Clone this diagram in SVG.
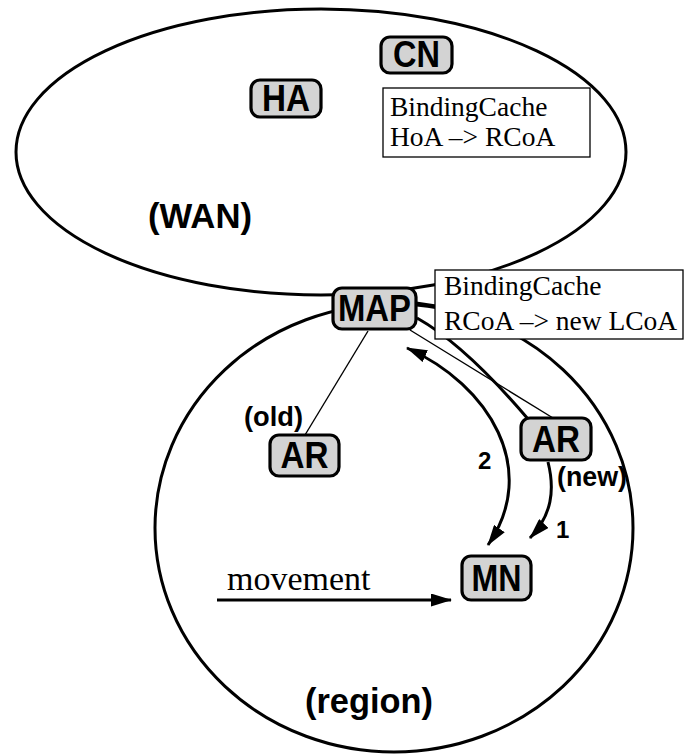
<svg xmlns="http://www.w3.org/2000/svg" width="685" height="755" viewBox="0 0 685 755">
  <defs>
    <style>
      .area { fill: none; stroke: #000; stroke-width: 3; }
      .node rect { fill: #d3d3d3; stroke: #000; stroke-width: 3.2; }
      .node text { font-family: "Liberation Sans", Arial, sans-serif; font-weight: bold; font-size: 37px; text-anchor: middle; fill: #000; }
      .cache rect { fill: #fff; stroke: #000; stroke-width: 1.3; }
      .cache text { font-family: "Liberation Serif", "Times New Roman", serif; font-size: 27.5px; fill: #000; }
      .label { font-family: "Liberation Sans", Arial, sans-serif; font-weight: bold; fill: #000; }
      .serif { font-family: "Liberation Serif", "Times New Roman", serif; fill: #000; }
      .thin { fill: none; stroke: #000; stroke-width: 1.4; }
      .thick { fill: none; stroke: #000; stroke-width: 3; }
      .arrow { fill: none; stroke: #000; stroke-width: 3; marker-end: url(#head); }
    </style>
    <marker id="head" viewBox="0 0 21 13" refX="20" refY="6.5" markerWidth="21" markerHeight="13" markerUnits="userSpaceOnUse" orient="auto-start-reverse">
      <path d="M0,0 L21,6.5 L0,13 z" fill="#000"/>
    </marker>
  </defs>

  <!-- network areas -->
  <g id="wan">
    <ellipse class="area" cx="321" cy="152" rx="305" ry="143"/>
    <text class="label" x="148" y="228" font-size="35" textLength="104" lengthAdjust="spacingAndGlyphs">(WAN)</text>
  </g>
  <g id="region">
    <ellipse class="area" cx="394" cy="528" rx="239" ry="224"/>
    <text class="label" x="305" y="713" font-size="35" textLength="128" lengthAdjust="spacingAndGlyphs">(region)</text>
  </g>

  <!-- links and signalling -->
  <g id="connectors">
    <line class="thin" x1="368" y1="331" x2="305" y2="435"/>
    <line class="thin" x1="410" y1="330" x2="553" y2="418"/>
    <path class="thick" d="M417,318 Q465,345 528,419"/>
    <line class="thick" x1="416" y1="303" x2="436" y2="306"/>
    <path class="arrow" d="M407,348 C490,385 540,470 488,545" style="marker-start:url(#head)"/>
    <path class="arrow" d="M548,462 C555,490 552,515 530,538"/>
    <path class="arrow" d="M217,600 L451,600"/>
  </g>

  <!-- binding caches -->
  <g id="cache-cn" class="cache">
    <rect x="383" y="88" width="207" height="69"/>
    <text x="390" y="116">BindingCache</text>
    <text x="390" y="146">HoA –&gt; RCoA</text>
  </g>
  <g id="cache-map" class="cache">
    <rect x="435" y="270" width="248" height="69"/>
    <text x="444" y="295">BindingCache</text>
    <text x="444" y="330">RCoA –&gt; new LCoA</text>
  </g>

  <!-- nodes -->
  <g id="cn" class="node">
    <rect x="381" y="37" width="71" height="36" rx="9"/>
    <text x="416.5" y="67" textLength="47" lengthAdjust="spacingAndGlyphs">CN</text>
  </g>
  <g id="ha" class="node">
    <rect x="251" y="80" width="70" height="37" rx="9"/>
    <text x="286" y="110.5" textLength="48" lengthAdjust="spacingAndGlyphs">HA</text>
  </g>
  <g id="map" class="node">
    <rect x="333" y="288" width="83" height="41" rx="9"/>
    <text x="374.5" y="321" textLength="73" lengthAdjust="spacingAndGlyphs">MAP</text>
  </g>
  <g id="ar-old" class="node">
    <rect x="270" y="435" width="69" height="41" rx="9"/>
    <text x="304.5" y="468" textLength="48" lengthAdjust="spacingAndGlyphs">AR</text>
  </g>
  <g id="ar-new" class="node">
    <rect x="521" y="418" width="70" height="42" rx="9"/>
    <text x="556" y="452" textLength="48" lengthAdjust="spacingAndGlyphs">AR</text>
  </g>
  <g id="mn" class="node">
    <rect x="462" y="556" width="69" height="44" rx="9"/>
    <text x="496.5" y="591" textLength="50" lengthAdjust="spacingAndGlyphs">MN</text>
  </g>

  <!-- annotations -->
  <text class="label" x="244" y="426" font-size="27" textLength="59" lengthAdjust="spacingAndGlyphs">(old)</text>
  <text class="label" x="557" y="486" font-size="27" textLength="70" lengthAdjust="spacingAndGlyphs">(new)</text>
  <text class="label" x="478" y="469" font-size="24">2</text>
  <text class="label" x="556" y="538" font-size="24">1</text>
  <text class="serif" x="227" y="590" font-size="34">movement</text>
</svg>
